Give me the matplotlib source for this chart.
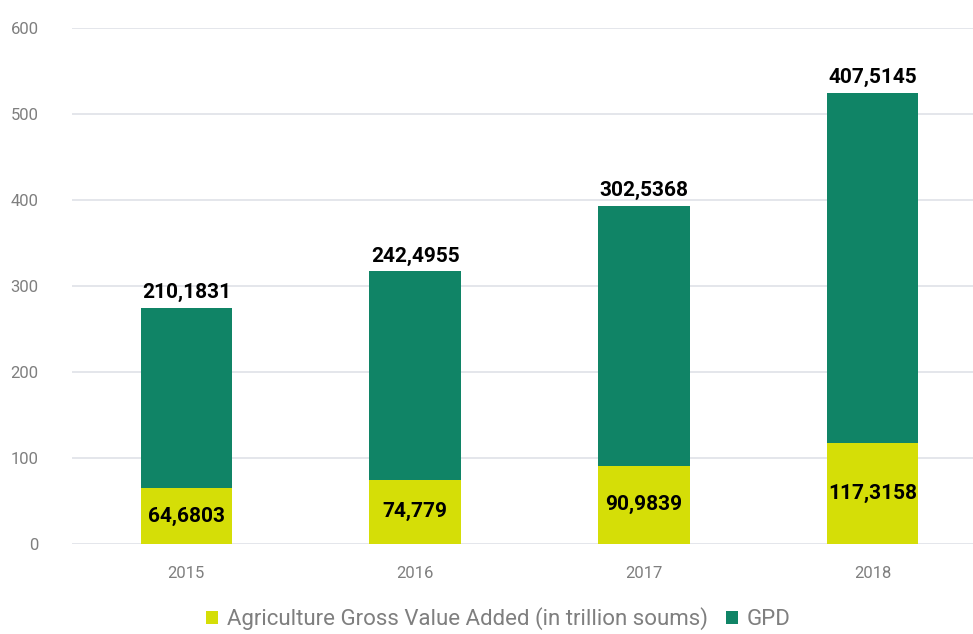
import matplotlib
matplotlib.use("Agg")
import matplotlib.pyplot as plt
import numpy as np

plt.rcParams['font.family'] = ['Roboto', 'DejaVu Sans']

years = ["2015", "2016", "2017", "2018"]
agriculture = [64.6803, 74.779, 90.9839, 117.3158]
gdp = [210.1831, 242.4955, 302.5368, 407.5145]

agri_color = '#d5de07'
gdp_color = '#108466'
tick_color = '#7f7f7f'


def fmt(v):
    # decimal comma, as printed on the bars
    return str(v).replace('.', ',')


fig = plt.figure(figsize=(9.73, 6.34), dpi=100)
ax = fig.add_axes([72/973, 90/634, 915/973, 516/634])

x = np.arange(len(years))
width = 0.40

ax.bar(x, agriculture, width, color=agri_color,
       label='Agriculture Gross Value Added (in trillion soums)', zorder=3)
ax.bar(x, gdp, width, bottom=agriculture, color=gdp_color, label='GPD', zorder=3)

for i in range(len(years)):
    ax.text(x[i], agriculture[i] / 2, fmt(agriculture[i]), ha='center', va='center',
            fontsize=15, fontweight='bold', color='black', zorder=4)
    ax.annotate(fmt(gdp[i]), (x[i], agriculture[i] + gdp[i]), xytext=(0, 4),
                textcoords='offset points', ha='center', va='bottom',
                fontsize=15, fontweight='bold', color='black')

ax.set_xlim(-0.5, 3.5)
ax.set_ylim(0, 600)
ax.set_yticks(range(0, 601, 100))
ax.set_xticks(x)
ax.set_xticklabels(years)
ax.tick_params(axis='both', length=0, colors=tick_color, labelsize=12)
ax.tick_params(axis='y', pad=24)
ax.tick_params(axis='x', pad=16)
ax.grid(axis='y', color='#dfe2e8', linewidth=1.2, zorder=0)
for s in ax.spines.values():
    s.set_visible(False)

fig.legend(loc='lower center', bbox_to_anchor=(0.512, -0.026), ncol=2, frameon=False,
           fontsize=16, handlelength=0.55, handleheight=0.55, handletextpad=0.4,
           columnspacing=0.8, labelcolor=tick_color)

fig.savefig('out.png', dpi=100)
